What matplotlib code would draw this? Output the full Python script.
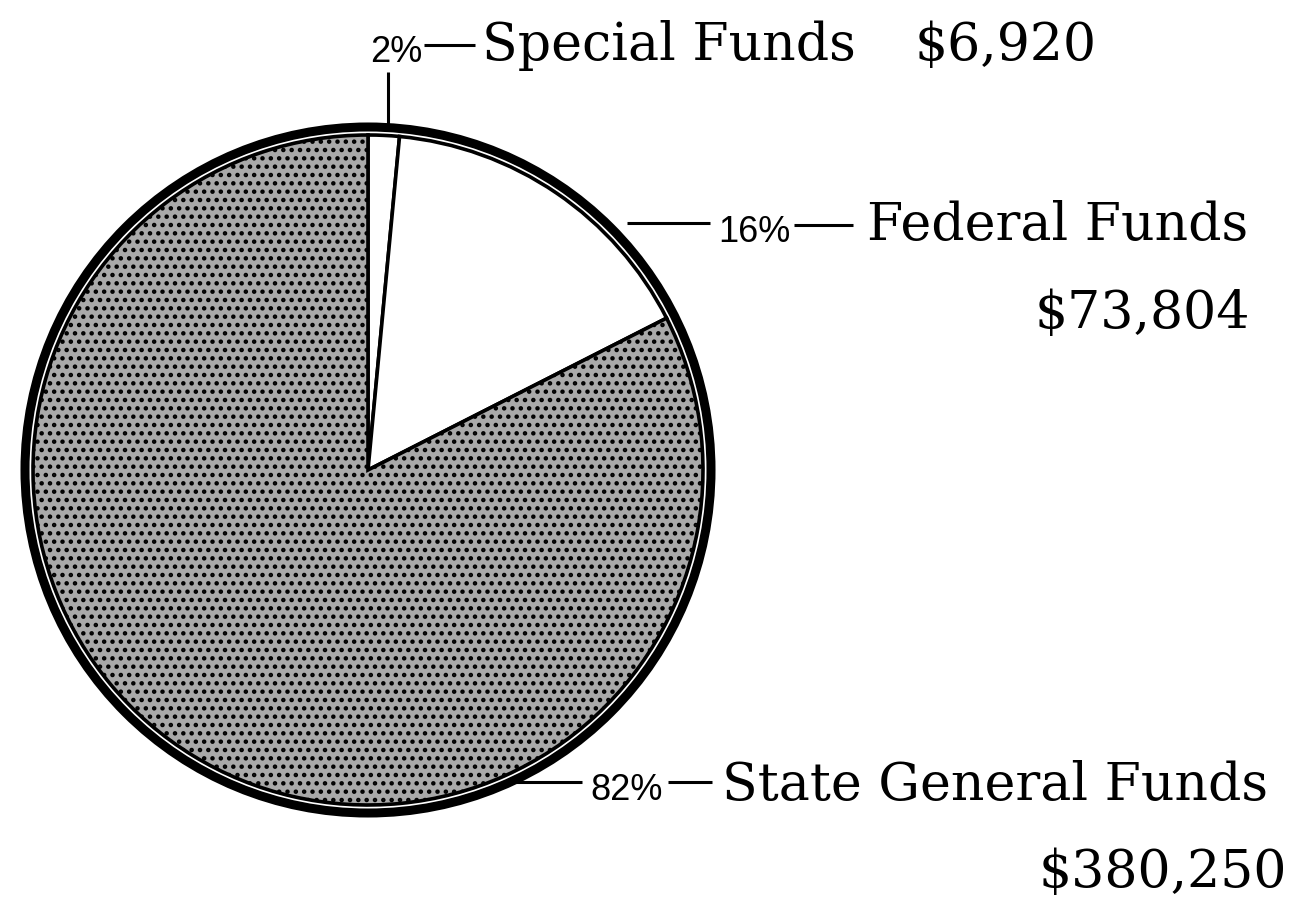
import matplotlib.pyplot as plt
from matplotlib.patches import Circle

# fund sources (dollars)
names = ['Special Funds', 'Federal Funds', 'State General Funds']
amounts = [6920, 73804, 380250]
pct_labels = ['2%', '16%', '82%']
amount_labels = ['$6,920', '$73,804', '$380,250']
fills = ['white', 'white', '#a9a9a9']
hatches = ['', '', '..']

W, H = 1302, 898
cx, cy, r = 368, 470, 335

plt.rcParams['hatch.linewidth'] = 2.0
serif = ['DejaVu Serif']
narrow = ['Liberation Sans Narrow', 'Liberation Sans', 'DejaVu Sans']

fig = plt.figure(figsize=(W / 100, H / 100), dpi=100)
ax = fig.add_axes([0, 0, 1, 1])

ax.pie(amounts, startangle=270, counterclock=True, center=(cx, cy), radius=r,
       colors=fills, hatch=hatches,
       wedgeprops=dict(edgecolor='black', linewidth=2.6))
ax.add_patch(Circle((cx, cy), r + 8, fill=False, edgecolor='black', linewidth=6.5))

ax.set_xlim(0, W)
ax.set_ylim(H, 0)
ax.set_aspect('equal')
ax.axis('off')

# label layout: (pct x, pct baseline, name x, name baseline, amount right x, amount baseline)
layout = [
    (370, 62, 482, 60, 1097, 60),
    (718, 242, 867, 240, 1250, 328),
    (590, 800, 722, 800, 1287, 887),
]
# leader lines
lk = dict(color='black', linewidth=2.2, solid_capstyle='butt')
ax.plot([388, 388], [72, 124], **lk)
ax.plot([424, 475], [45, 45], **lk)
ax.plot([627, 710], [223, 223], **lk)
ax.plot([794, 853], [225, 225], **lk)
ax.plot([512, 582], [782, 782], **lk)
ax.plot([668, 712], [782, 782], **lk)

for i in range(3):
    px, py, nx, ny, ax_r, ay = layout[i]
    ax.text(px, py, pct_labels[i], family=narrow, fontsize=26,
            ha='left', va='baseline')
    ax.text(nx, ny, names[i], family=serif, fontsize=37.5,
            ha='left', va='baseline')
    ax.text(ax_r, ay, amount_labels[i], family=serif, fontsize=37.5,
            ha='right', va='baseline')

fig.savefig('out.png', dpi=100, facecolor='white')
